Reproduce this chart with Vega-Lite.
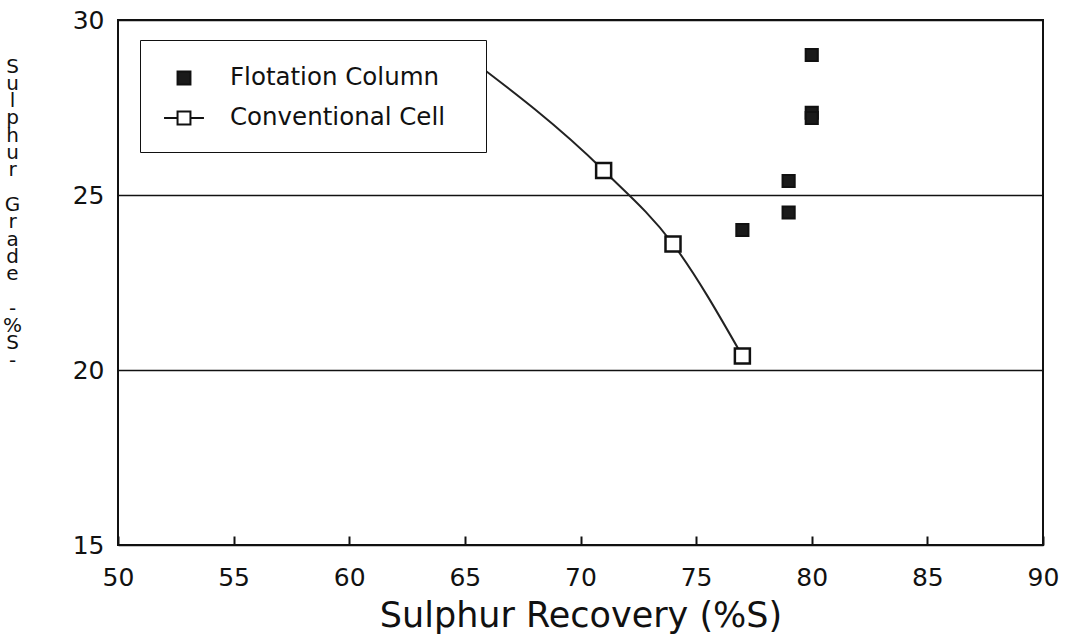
{
  "$schema": "https://vega.github.io/schema/vega-lite/v6.json",
  "width": 925,
  "height": 525,
  "autosize": "none",
  "padding": {"left": 118, "top": 20, "right": 31, "bottom": 91},
  "background": "white",
  "config": {
    "view": {"stroke": "#111", "strokeWidth": 2},
    "font": "DejaVu Sans"
  },
  "datasets": {
    "flotation": [
      {"recovery": 80, "grade": 29.0, "series": "Flotation Column"},
      {"recovery": 80, "grade": 27.35, "series": "Flotation Column"},
      {"recovery": 80, "grade": 27.2, "series": "Flotation Column"},
      {"recovery": 79, "grade": 25.4, "series": "Flotation Column"},
      {"recovery": 79, "grade": 24.5, "series": "Flotation Column"},
      {"recovery": 77, "grade": 24.0, "series": "Flotation Column"}
    ],
    "conventional": [
      {"recovery": 65, "grade": 29.0, "series": "Conventional Cell"},
      {"recovery": 71, "grade": 25.7, "series": "Conventional Cell"},
      {"recovery": 74, "grade": 23.6, "series": "Conventional Cell"},
      {"recovery": 77, "grade": 20.4, "series": "Conventional Cell"}
    ]
  },
  "encoding": {
    "x": {
      "field": "recovery", "type": "quantitative",
      "scale": {"domain": [50, 90], "nice": false, "zero": false},
      "axis": {
        "title": "Sulphur Recovery (%S)",
        "values": [50, 55, 60, 65, 70, 75, 80, 85, 90],
        "grid": false,
        "domain": false,
        "ticks": true,
        "offset": -9,
        "tickSize": 9,
        "tickColor": "#111",
        "tickOpacity": 1,
        "tickWidth": 2,
        "labelFlush": false,
        "labelFontSize": 25,
        "labelColor": "#111",
        "labelPadding": 20,
        "titleFontSize": 35,
        "titleFontWeight": "normal",
        "titleColor": "#111",
        "titleFont": "DejaVu Sans",
        "titlePadding": 8
      }
    },
    "y": {
      "field": "grade", "type": "quantitative",
      "scale": {"domain": [15, 30], "nice": false, "zero": false},
      "axis": {
        "title": ["S", "u", "l", "p", "h", "u", "r", "\u2800", "G", "r", "a", "d", "e", "\u2800", "-", "%", "S", "-"],
        "values": [15, 20, 25, 30],
        "grid": true,
        "gridColor": "#111",
        "gridWidth": 1.5,
        "gridOpacity": 1,
        "domain": false,
        "ticks": false,
        "labelFlush": false,
        "labelFontSize": 25,
        "labelColor": "#111",
        "labelPadding": 14,
        "titleAngle": 0,
        "titleFontSize": 20,
        "titleLineHeight": 17.3,
        "titleFontWeight": "normal",
        "titleColor": "#111",
        "titleAlign": "center",
        "titleBaseline": "top",
        "titleX": -106,
        "titleY": 36
      }
    }
  },
  "layer": [
    {
      "data": {"name": "conventional"},
      "mark": {"type": "line", "interpolate": "monotone", "color": "#222", "strokeWidth": 2},
      "encoding": {}
    },
    {
      "data": {"name": "flotation"},
      "mark": {"type": "point", "size": 800, "filled": true, "strokeWidth": 2, "opacity": 1},
      "encoding": {
        "shape": {
          "field": "series", "type": "nominal",
          "scale": {
            "domain": ["Flotation Column", "Conventional Cell"],
            "range": ["M-0.43,-0.43H0.43V0.43H-0.43Z", "M-1.33,0H-0.43M0.43,0H1.33M-0.43,-0.43H0.43V0.43H-0.43Z"]
          },
          "legend": {
            "orient": "none",
            "legendX": 22,
            "legendY": 20,
            "direction": "vertical",
            "title": null,
            "fillColor": "white",
            "strokeColor": "#111",
            "padding": 22,
            "rowPadding": 12,
            "symbolOffset": 6,
            "symbolSize": 900,
            "symbolStrokeWidth": 2,
            "labelFontSize": 24.5,
            "labelColor": "#111",
            "labelOffset": 30,
            "labelLimit": 500,
            "labelFont": "DejaVu Sans",
            "labelExpr": "datum.label + '\u2800'"
          }
        },
        "fill": {
          "field": "series", "type": "nominal",
          "scale": {"domain": ["Flotation Column", "Conventional Cell"], "range": ["#1a1a1a", "white"]}
        },
        "stroke": {
          "field": "series", "type": "nominal",
          "scale": {"domain": ["Flotation Column", "Conventional Cell"], "range": ["#111", "#111"]}
        }
      }
    },
    {
      "data": {"name": "conventional"},
      "mark": {"type": "point", "shape": "square", "size": 225, "filled": true, "fill": "white", "stroke": "#111", "strokeWidth": 2.5, "opacity": 1},
      "encoding": {}
    }
  ]
}
